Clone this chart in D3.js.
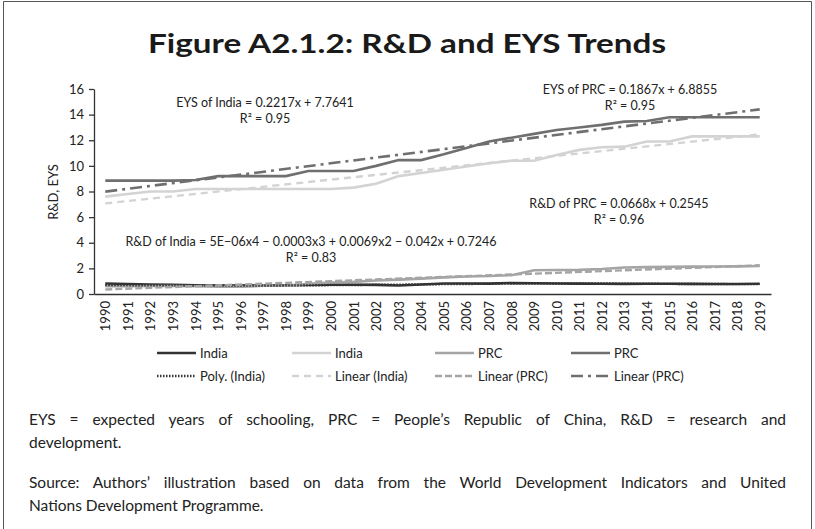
<!DOCTYPE html>
<html>
<head>
<meta charset="utf-8">
<script src="https://cdn.jsdelivr.net/npm/d3@7"></script>
<style>
  body { margin: 0; background: #fff; }
  svg { display: block; font-family: Lato, "Open Sans", sans-serif; }
</style>
</head>
<body>
<div id="chart"></div>
<script>
// data
const years = ['1990','1991','1992','1993','1994','1995','1996','1997','1998','1999',
               '2000','2001','2002','2003','2004','2005','2006','2007','2008','2009',
               '2010','2011','2012','2013','2014','2015','2016','2017','2018','2019'];
const yTicks = [0, 2, 4, 6, 8, 10, 12, 14, 16];

const indiaRD  = [0.82,0.78,0.74,0.71,0.68,0.66,0.65,0.66,0.68,0.70,0.73,0.72,0.71,0.66,0.74,
                  0.82,0.82,0.81,0.86,0.84,0.82,0.81,0.80,0.79,0.80,0.80,0.79,0.78,0.78,0.80];
const indiaEYS = [7.6,7.8,8.0,8.0,8.2,8.2,8.2,8.2,8.2,8.2,8.2,8.3,8.6,9.2,9.45,
                  9.7,9.95,10.2,10.4,10.4,10.85,11.25,11.45,11.5,11.9,11.9,12.3,12.3,12.3,12.3];
const prcRD    = [0.60,0.60,0.62,0.62,0.60,0.57,0.57,0.64,0.65,0.80,0.90,0.95,1.05,1.12,1.20,
                  1.30,1.37,1.40,1.47,1.85,1.87,1.88,1.95,2.07,2.10,2.12,2.14,2.15,2.16,2.19];
const prcEYS   = [8.85,8.85,8.85,8.85,8.9,9.2,9.2,9.2,9.2,9.6,9.6,9.6,10.0,10.45,10.45,
                  10.9,11.4,11.9,12.2,12.5,12.8,13.0,13.2,13.45,13.5,13.8,13.8,13.8,13.8,13.8];

// trend lines
const polyIndiaRD = [0.70,0.69,0.68,0.67,0.66,0.66,0.66,0.66,0.67,0.68,0.69,0.70,0.72,0.73,0.75,
                     0.77,0.78,0.80,0.81,0.82,0.82,0.82,0.82,0.81,0.80,0.79,0.78,0.78,0.77,0.77];
const trendYears = ['1990', '2019'];
const linIndiaEYS = [7.07, 12.45];
const linPrcRD    = [0.35, 2.24];
const linPrcEYS   = [7.99, 14.41];

const legendLabels = ['India', 'India', 'PRC', 'PRC',
                      'Poly. (India)', 'Linear (India)', 'Linear (PRC)', 'Linear (PRC)'];
const annotations = [
    ['EYS of India = 0.2217x + 7.7641', 'R\u00b2 = 0.95'],
    ['EYS of PRC = 0.1867x + 6.8855', 'R\u00b2 = 0.95'],
    ['R&D of PRC = 0.0668x + 0.2545', 'R\u00b2 = 0.96'],
    ['R&D of India = 5E\u221206x4 \u2212 0.0003x3 + 0.0069x2 \u2212 0.042x + 0.7246', 'R\u00b2 = 0.83']
];
const notes = [
    'EYS = expected years of schooling, PRC = People\u2019s Republic of China, R&D = research and',
    'development.',
    'Source: Authors\u2019 illustration based on data from the World Development Indicators and United',
    'Nations Development Programme.'
];

const svg = d3.select('#chart').append('svg')
    .attr('width', 815)
    .attr('height', 529);

svg.append('rect').attr('width', 815).attr('height', 529).attr('fill', '#fff');

// frame round the figure
svg.append('path')
    .attr('d', 'M3.5,540V1.5H811.5V540')
    .attr('fill', 'none')
    .attr('stroke', '#555')
    .attr('stroke-width', 1);

svg.append('text')
    .attr('x', 407).attr('y', 53)
    .attr('text-anchor', 'middle')
    .attr('font-size', 26)
    .attr('font-weight', 700)
    .attr('fill', '#1a1a1a')
    .attr('textLength', 518)
    .attr('lengthAdjust', 'spacingAndGlyphs')
    .text('Figure A2.1.2: R&D and EYS Trends');

const x = d3.scalePoint().domain(years).range([94, 771]).padding(0.5);
const y = d3.scaleLinear().domain([0, 16]).range([294, 89]);

// y axis
const gy = svg.append('g')
    .attr('transform', 'translate(94,0)')
    .call(d3.axisLeft(y).tickValues(yTicks).tickSize(5).tickPadding(5).tickSizeOuter(0));
gy.select('.domain').attr('stroke', '#333').attr('stroke-width', 1.3);
gy.selectAll('.tick line').attr('stroke', '#333').attr('stroke-width', 1.3);
gy.selectAll('text').attr('font-size', 13).attr('fill', '#222').attr('font-family', 'Lato, sans-serif');

svg.append('text')
    .attr('transform', 'translate(58,192) rotate(-90)')
    .attr('text-anchor', 'middle')
    .attr('font-size', 13)
    .attr('fill', '#222')
    .text('R&D, EYS');

// x axis
const gx = svg.append('g')
    .attr('transform', 'translate(0,294)')
    .call(d3.axisBottom(x).tickSize(0).tickSizeOuter(0));
gx.select('.domain').attr('stroke', '#333').attr('stroke-width', 1.3);
gx.selectAll('text')
    .attr('font-size', 13)
    .attr('fill', '#222')
    .attr('font-family', 'Lato, sans-serif')
    .attr('transform', 'rotate(-90)')
    .attr('text-anchor', 'end')
    .attr('x', -7)
    .attr('y', 0)
    .attr('dy', '0.35em');

const line = d3.line()
    .x(d => x(d[0]))
    .y(d => y(d[1]));

const series = [
    { v: indiaRD,  yrs: years, color: '#333333', w: 2.6, dash: null },
    { v: indiaEYS, yrs: years, color: '#d3d3d3', w: 2.6, dash: null },
    { v: prcRD,    yrs: years, color: '#a5a5a5', w: 2.6, dash: null },
    { v: prcEYS,   yrs: years, color: '#6f6f6f', w: 2.6, dash: null },
    { v: polyIndiaRD, yrs: years, color: '#333333', w: 2.4, dash: '1.5,1.5' },
    { v: linIndiaEYS, yrs: trendYears, color: '#d3d3d3', w: 2.4, dash: '7,5' },
    { v: linPrcRD,    yrs: trendYears, color: '#a5a5a5', w: 2.4, dash: '7,3' },
    { v: linPrcEYS,   yrs: trendYears, color: '#6f6f6f', w: 2.6, dash: '12,5,3,5' }
];

svg.append('g').selectAll('path')
    .data(series)
    .enter()
    .append('path')
    .attr('d', s => line(s.v.map((val, i) => [s.yrs[i], val])))
    .attr('fill', 'none')
    .attr('stroke', s => s.color)
    .attr('stroke-width', s => s.w)
    .attr('stroke-dasharray', s => s.dash);

// trend equations
const annPos = [[265, 107], [630, 94], [619, 208], [311, 246]];
annotations.forEach((lines, i) => {
    const t = svg.append('text')
        .attr('x', annPos[i][0]).attr('y', annPos[i][1])
        .attr('text-anchor', 'middle')
        .attr('font-size', 12.5)
        .attr('fill', '#222');
    lines.forEach((l, j) => {
        t.append('tspan').attr('x', annPos[i][0]).attr('dy', j ? 15.5 : 0).text(l);
    });
});

// legend
const legCols = [157, 292, 435, 571];
const legRows = [353, 376];
const leg = svg.append('g');
legendLabels.forEach((lab, i) => {
    const s = series[i];
    const lx = legCols[i % 4], ly = legRows[Math.floor(i / 4)];
    leg.append('line')
        .attr('x1', lx).attr('x2', lx + 39)
        .attr('y1', ly).attr('y2', ly)
        .attr('stroke', s.color)
        .attr('stroke-width', s.w)
        .attr('stroke-dasharray', s.dash);
    leg.append('text')
        .attr('x', lx + 43).attr('y', ly)
        .attr('dy', '0.35em')
        .attr('font-size', 13)
        .attr('fill', '#222')
        .text(lab);
});

// notes, first line of each block justified
const noteY = [425, 448, 488, 511];
const justify = [true, false, true, false];
notes.forEach((n, i) => {
    const t = svg.append('text')
        .attr('x', 29).attr('y', noteY[i])
        .attr('font-size', 15.5)
        .attr('fill', '#222')
        .text(n);
    if (justify[i]) {
        const natural = t.node().getComputedTextLength();
        const gaps = n.split(' ').length - 1;
        t.attr('word-spacing', (786 - 29 - natural) / gaps);
    }
});
</script>
</body>
</html>
